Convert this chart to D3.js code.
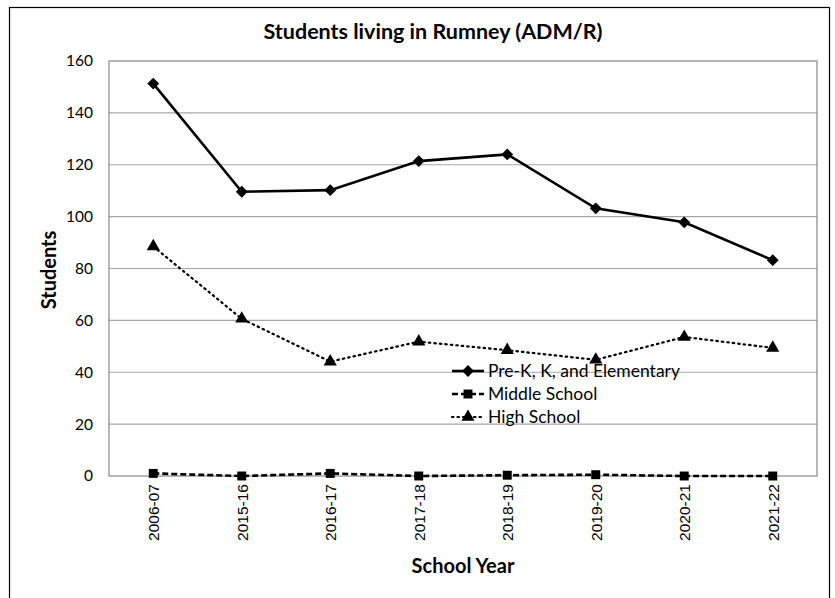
<!DOCTYPE html>
<html><head><meta charset="utf-8">
<script src="https://cdn.jsdelivr.net/npm/d3@7"></script>
<style>body{margin:0;background:#fff}svg{display:block}</style>
</head><body><svg id="c" width="835" height="598"></svg>
<script>
const years = ["2006-07","2015-16","2016-17","2017-18","2018-19","2019-20","2020-21","2021-22"];
const preK = [151.3,109.6,110.2,121.4,124.0,103.2,97.8,83.2];
const middle = [1.0,0,1.0,0,0.3,0.5,0,0];
const high = [88.5,60.6,44.1,51.8,48.5,44.8,53.6,49.4];
const yTicks = [0,20,40,60,80,100,120,140,160];
const seriesNames = ["Pre-K, K, and Elementary","Middle School","High School"];

const svg = d3.select("#c");
const L=109,T=61,R=817,B=476;
const font = "Lato, 'Open Sans', sans-serif";

svg.append("rect").attr("x",9.5).attr("y",7.5).attr("width",820).attr("height",600)
  .attr("fill","none").attr("stroke","#000").attr("stroke-width",1.2);

const x = d3.scalePoint().domain(years).range([L,R]).padding(0.5);
const y = d3.scaleLinear().domain([0,160]).range([B,T]);

svg.append("g").selectAll("line").data(yTicks.slice(1,-1)).join("line")
  .attr("x1",L).attr("x2",R).attr("y1",d=>y(d)).attr("y2",d=>y(d))
  .attr("stroke","#a6a6a6").attr("stroke-width",1.2);
svg.append("rect").attr("x",L).attr("y",T).attr("width",R-L).attr("height",B-T)
  .attr("fill","none").attr("stroke","#888").attr("stroke-width",1.2);

const ya = svg.append("g").attr("transform",`translate(${L},0)`)
  .call(d3.axisLeft(y).tickValues(yTicks).tickSize(0).tickPadding(16));
ya.select(".domain").remove();
ya.selectAll("text").attr("font-family",font).attr("font-size",15.5).attr("fill","#000");

const xa = svg.append("g").attr("transform",`translate(0,${B})`)
  .call(d3.axisBottom(x).tickSize(0));
xa.select(".domain").remove();
xa.selectAll("text").attr("font-family","'Liberation Sans', Arial, sans-serif").attr("font-size",15.5).attr("fill","#000")
  .attr("transform","rotate(-90)").attr("text-anchor","end").attr("dy","0.35em").attr("x",-8).attr("y",0);

svg.append("text").attr("x",433).attr("y",39).attr("text-anchor","middle")
  .attr("font-family",font).attr("font-weight","bold").attr("font-size",21.5).text("Students living in Rumney (ADM/R)");
svg.append("text").attr("x",463).attr("y",573).attr("text-anchor","middle")
  .attr("font-family",font).attr("font-weight","bold").attr("font-size",20).text("School Year");
svg.append("text").attr("transform",`translate(56,270) rotate(-90)`).attr("text-anchor","middle")
  .attr("font-family",font).attr("font-weight","bold").attr("font-size",20).text("Students");

const line = d3.line().x((d,i)=>x(years[i])).y(d=>y(d));
const series = [
  {name:seriesNames[0], vals:preK, dash:null, w:2.6, sym:d3.symbolDiamond, size:70},
  {name:seriesNames[1], vals:middle, dash:"6,3", w:2.6, sym:d3.symbolSquare, size:80},
  {name:seriesNames[2], vals:high, dash:"1.5,4", w:2.2, sym:d3.symbolTriangle, size:75}
];
function diamond(s){ return d3.symbol().type(d3.symbolSquare).size(s)(); }
function sym(s){ return s.sym===d3.symbolDiamond ? diamond(s.size) : d3.symbol().type(s.sym).size(s.size)(); }
series.forEach(s=>{
  svg.append("path").datum(s.vals).attr("d",line).attr("fill","none").attr("stroke","#000")
    .attr("stroke-width",s.w).attr("stroke-dasharray",s.dash).attr("stroke-linecap",s.dash && s.dash.startsWith("1.5")?"round":"butt");
  svg.append("g").selectAll("path").data(s.vals).join("path")
    .attr("d", sym(s))
    .attr("transform",(d,i)=>`translate(${x(years[i])},${y(d)})${s.sym===d3.symbolDiamond?' rotate(45)':''}`)
    .attr("fill","#000");
});

const lg = svg.append("g");
series.forEach((s,i)=>{
  const yy = 371 + i*23;
  lg.append("line").attr("x1",452).attr("x2",484).attr("y1",yy).attr("y2",yy).attr("stroke","#000")
    .attr("stroke-width",s.w).attr("stroke-dasharray",s.dash).attr("stroke-linecap",s.dash && s.dash.startsWith("1.5")?"round":"butt");
  lg.append("path").attr("d", sym(s))
    .attr("transform",`translate(468,${yy})${s.sym===d3.symbolDiamond?' rotate(45)':''}`).attr("fill","#000");
  lg.append("text").attr("x",488).attr("y",yy).attr("dy","0.35em").attr("font-family",font).attr("font-size",17.5).text(s.name);
});
</script></body></html>
